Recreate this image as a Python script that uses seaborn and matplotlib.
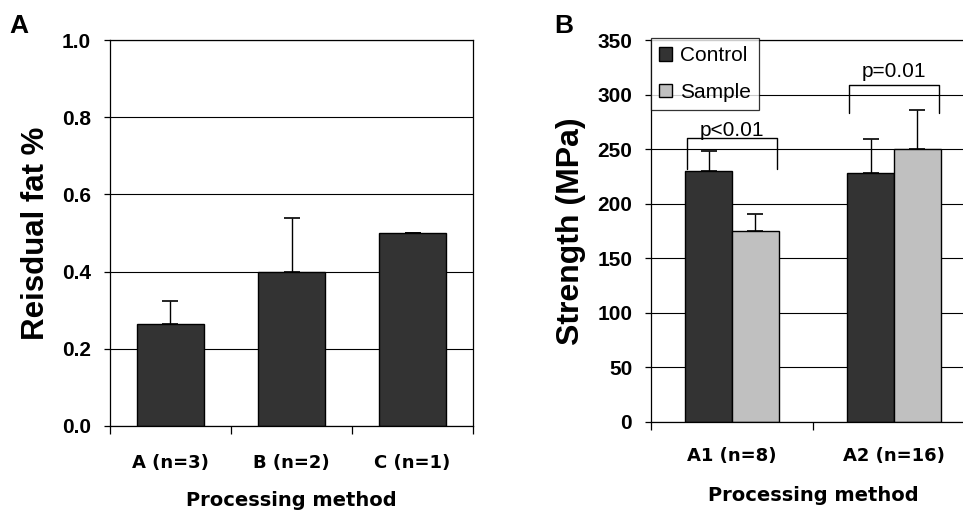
import matplotlib
matplotlib.use("Agg")
import matplotlib.pyplot as plt
import seaborn as sns
import pandas as pd
import numpy as np

# Panel A data
methods_a = ["A (n=3)", "B (n=2)", "C (n=1)"]
fat_mean = [0.265, 0.40, 0.50]
fat_err = [0.06, 0.14, 0.0]

# Panel B data
methods_b = ["A1 (n=8)", "A2 (n=16)"]
groups = ["Control", "Sample"]
control_mean = [230, 228]
control_err = [18, 31]
sample_mean = [175, 250]
sample_err = [16, 36]
p_labels = ["p<0.01", "p=0.01"]
p_top = [260, 309]
p_leg = [232, 283]

sns.set_theme(style="white")
plt.rcParams['font.family'] = ['Liberation Sans', 'DejaVu Sans']
for k in ["text.color", "axes.labelcolor", "xtick.color", "ytick.color",
          "axes.edgecolor"]:
    plt.rcParams[k] = "black"

DARK = "#333333"
LIGHT = "#c0c0c0"
ARIAL = ['Liberation Sans', 'DejaVu Sans']
WIDE = ['DejaVu Sans']

fig = plt.figure(figsize=(9.63, 5.13), dpi=100)
axA = fig.add_axes([0.1142, 0.1696, 0.377, 0.7524])
axB = fig.add_axes([0.676, 0.1774, 0.3364, 0.7446])

def style_axes(ax, ymax, step, fmt, ncat, xpad):
    vals = np.arange(0, ymax + step / 2, step)
    ax.set_ylim(0, ymax)
    ax.set_yticks(vals)
    ax.set_yticklabels([fmt.format(v) for v in vals], fontsize=15,
                       fontweight="bold", family=ARIAL, color="black")
    ax.yaxis.grid(True, color="black", linewidth=0.8)
    ax.set_axisbelow(True)
    for s in ax.spines.values():
        s.set_color("black")
        s.set_linewidth(0.9)
    ax.tick_params(axis="y", which="major", length=4.5, width=0.9, color="black",
                   direction="out", left=True, pad=9)
    ax.set_xlim(-0.5, ncat - 0.5)
    ax.set_xticks(range(ncat))
    ax.tick_params(axis="x", which="major", length=0, pad=xpad)
    ax.set_xticks(np.arange(-0.5, ncat, 1.0), minor=True)
    ax.tick_params(axis="x", which="minor", length=6, width=0.9, color="black",
                   direction="out", bottom=True)
    for lab in ax.get_xticklabels():
        lab.set_fontsize(13)
        lab.set_fontweight("bold")
        lab.set_family(WIDE)
        lab.set_color("black")

# ---- Panel A ----
dfA = pd.DataFrame({"method": methods_a, "fat": fat_mean})
sns.barplot(data=dfA, x="method", y="fat", color=DARK, saturation=1,
            width=0.55, edgecolor="black", linewidth=1.0, errorbar=None, ax=axA)
axA.errorbar(range(len(methods_a)), fat_mean,
             yerr=[np.zeros(len(fat_err)), fat_err],
             fmt="none", ecolor="black", elinewidth=1.0, capsize=6, capthick=1.2)
style_axes(axA, 1.0, 0.2, "{:.1f}", 3, xpad=20)
axA.set_ylabel("Reisdual fat %", fontsize=22.5, fontweight="bold", labelpad=8,
               family=ARIAL, color="black")
axA.set_xlabel("Processing method", fontsize=14, fontweight="bold", labelpad=14,
               family=WIDE, color="black")

# ---- Panel B ----
dfB = pd.DataFrame({
    "method": methods_b * 2,
    "group": [groups[0]] * 2 + [groups[1]] * 2,
    "strength": control_mean + sample_mean,
})
sns.barplot(data=dfB, x="method", y="strength", hue="group", hue_order=groups,
            palette=[DARK, LIGHT], saturation=1, width=0.575, edgecolor="black",
            linewidth=1.0, errorbar=None, ax=axB)
bw = 0.575 / 2
xs = np.arange(len(methods_b))
axB.errorbar(xs - bw / 2, control_mean, yerr=[np.zeros(2), control_err],
             fmt="none", ecolor="black", elinewidth=1.0, capsize=6, capthick=1.2)
axB.errorbar(xs + bw / 2, sample_mean, yerr=[np.zeros(2), sample_err],
             fmt="none", ecolor="black", elinewidth=1.0, capsize=6, capthick=1.2)
style_axes(axB, 350, 50, "{:.0f}", 2, xpad=18)
axB.spines["right"].set_visible(False)
axB.set_ylabel("Strength (MPa)", fontsize=23, fontweight="bold", labelpad=8,
               family=ARIAL, color="black")
axB.set_xlabel("Processing method", fontsize=14, fontweight="bold", labelpad=15,
               family=WIDE, color="black")

baseline_gap = [2, 7]
for i in range(len(methods_b)):
    x0 = xs[i] - bw + 0.01
    x1 = xs[i] + bw - 0.01
    axB.plot([x0, x0, x1, x1], [p_leg[i], p_top[i], p_top[i], p_leg[i]],
             color="black", linewidth=1.0)
    axB.text(xs[i], p_top[i] + baseline_gap[i], p_labels[i], ha="center",
             va="baseline", fontsize=15, family=ARIAL, color="black")

leg = axB.legend(loc="upper left", bbox_to_anchor=(0.0, 1.005), frameon=True,
                 fancybox=False, prop={"family": ARIAL, "size": 15},
                 handlelength=0.6, handleheight=0.6,
                 handletextpad=0.4, labelspacing=0.85, borderpad=0.4,
                 borderaxespad=0.0, title=None)
leg.get_frame().set_edgecolor("black")
leg.get_frame().set_linewidth(0.9)
for t in leg.get_texts():
    t.set_color("black")
for h in leg.legend_handles:
    h.set_edgecolor("black")
    h.set_linewidth(1.0)

fig.text(0.010, 0.95, "A", fontsize=19, fontweight="bold", ha="left", va="center",
         family=ARIAL, color="black")
fig.text(0.576, 0.95, "B", fontsize=19, fontweight="bold", ha="left", va="center",
         family=ARIAL, color="black")

fig.savefig("out.png", dpi=100)
